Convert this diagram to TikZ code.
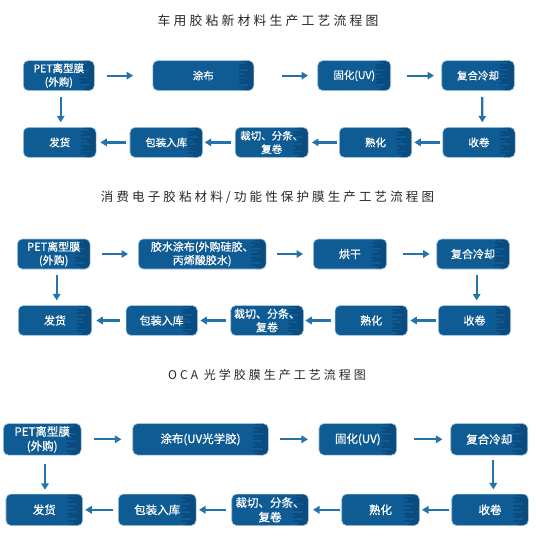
\documentclass[tikz,border=0pt]{standalone}
\usepackage{fontspec}
\usepackage{tikz}
\usetikzlibrary{arrows.meta, calc}
\newfontfamily\cjk{Noto Sans CJK SC}[FakeBold=0.8]
\newfontfamily\cjktitle{Noto Sans CJK SC}[LetterSpace=25]
\definecolor{boxblue}{HTML}{0F5B94}
\definecolor{boxdark}{HTML}{0B4C80}
\definecolor{boxedge}{HTML}{A9C7DF}
\definecolor{arrowblue}{HTML}{2573AB}

\begin{document}
\begin{tikzpicture}[
    x=1pt, y=-1pt,
    procbox/.style={draw=boxedge, line width=0.6pt, fill=boxblue, rounded corners=5pt,
                    minimum width=#1, minimum height=30pt, inner sep=0pt,
                    text=white, align=center, font=\cjk\fontsize{10.5}{13.5}\selectfont,
                    path picture={
                      \fill[boxdark] ([xshift=-15pt]path picture bounding box.north east)
                        rectangle (path picture bounding box.south east);
                      \foreach \f/\w in {0.08/8,0.2/4,0.32/10,0.44/6,0.56/9,0.68/3,0.8/10,0.92/6}
                        \draw[boxblue, line width=1.8pt]
                          ($(path picture bounding box.north east)!\f!(path picture bounding box.south east)+(-15.5pt,0pt)$)
                          -- ++(\w pt,0pt);
                    }},
    conn/.style={-{Triangle[length=6.5pt,width=7.5pt]}, draw=arrowblue, line width=2.2pt},
    heading/.style={font=\cjktitle\fontsize{#1}{#1}\selectfont, text=black!85},
]
    \useasboundingbox (0,0) rectangle (535,543);

    % Section 1: car adhesive materials
    \node[heading=12.8] (title1) at (268,21) {车用胶粘新材料生产工艺流程图};

    % Row 1
    \node[procbox=71pt] (pet1) at (58.8,75.6) {PET离型膜\\(外购)};
    \node[procbox=101pt] (coat1) at (203.3,75.6) {涂布};
    \node[procbox=73pt] (cure1) at (354.2,75.6) {固化(UV)};
    \node[procbox=72.6pt] (lam1) at (478,75.6) {复合冷却};

    % Row 2
    \node[procbox=72.7pt] (ship1) at (59.7,142.4) {发货};
    \node[procbox=72.7pt] (pack1) at (166.3,142.4) {包装入库};
    \node[procbox=73pt] (slit1) at (271.7,142.4) {裁切、分条、\\复卷};
    \node[procbox=72.4pt] (age1) at (375.5,142.4) {熟化};
    \node[procbox=72.3pt] (wind1) at (478.9,142.4) {收卷};

    % Connections
    \draw[conn, shorten <=12.4pt, shorten >=19.4pt] (pet1.east) -- (coat1.west);
    \draw[conn, shorten <=27.7pt, shorten >=9.4pt] (coat1.east) -- (cure1.west);
    \draw[conn, shorten <=16pt, shorten >=7.4pt] (cure1.east) -- (lam1.west);
    \draw[conn, shorten <=6pt, shorten >=4.8pt] ([xshift=4.3pt]lam1.south) -- ([xshift=3.4pt]wind1.north);
    \draw[conn, shorten <=2.7pt, shorten >=2.3pt] (wind1.west) -- (age1.east);
    \draw[conn, shorten <=1.6pt, shorten >=3.4pt] (age1.west) -- (slit1.east);
    \draw[conn, shorten <=4pt, shorten >=1.7pt] (slit1.west) -- (pack1.east);
    \draw[conn, shorten <=4pt, shorten >=4pt] (pack1.west) -- (ship1.east);
    \draw[conn, shorten <=6pt, shorten >=4.8pt] ([xshift=1.9pt]pet1.south) -- ([xshift=1pt]ship1.north);

    % Section 2: consumer electronics / protective film
    \node[heading=12.5] (title2) at (267.5,197) {消费电子胶粘材料/功能性保护膜生产工艺流程图};

    \begin{scope}[procbox/.append style={font=\cjk\fontsize{11}{13.5}\selectfont}]
    % Row 1
    \node[procbox=72.7pt] (pet2) at (53.7,254) {PET离型膜\\(外购)};
    \node[procbox=127.7pt] (coat2) at (202.2,254) {胶水涂布(外购硅胶、\\丙烯酸胶水)};
    \node[procbox=73.4pt] (dry2) at (350,254) {烘干};
    \node[procbox=72.6pt] (lam2) at (473,254) {复合冷却};

    % Row 2
    \node[procbox=73.4pt] (ship2) at (55,320.5) {发货};
    \node[procbox=71.3pt] (pack2) at (161.7,320.5) {包装入库};
    \node[procbox=72.6pt] (slit2) at (267,320.5) {裁切、分条、\\复卷};
    \node[procbox=72.3pt] (age2) at (371.2,320.5) {熟化};
    \node[procbox=72.4pt] (wind2) at (474.5,320.5) {收卷};
    \end{scope}

    % Connections
    \draw[conn, shorten <=11.7pt, shorten >=10pt] (pet2.east) -- (coat2.west);
    \draw[conn, shorten <=10.7pt, shorten >=10pt] (coat2.east) -- (dry2.west);
    \draw[conn, shorten <=16pt, shorten >=6.7pt] (dry2.east) -- (lam2.west);
    \draw[conn, shorten <=6pt, shorten >=4.8pt] ([xshift=3.7pt]lam2.south) -- ([xshift=2.2pt]wind2.north);
    \draw[conn, shorten <=1.6pt, shorten >=2.7pt] (wind2.west) -- (age2.east);
    \draw[conn, shorten <=3.3pt, shorten >=1.7pt] (age2.west) -- (slit2.east);
    \draw[conn, shorten <=4pt, shorten >=2.7pt] (slit2.west) -- (pack2.east);
    \draw[conn, shorten <=5.3pt, shorten >=4.3pt] (pack2.west) -- (ship2.east);
    \draw[conn, shorten <=6pt, shorten >=4.8pt] ([xshift=3pt]pet2.south) -- ([xshift=1.7pt]ship2.north);

    % Section 3: OCA optical adhesive film
    \node[heading=12] (title3) at (267,375.4) {OCA 光学胶膜生产工艺流程图};

    \begin{scope}[procbox/.append style={minimum height=31.5pt, font=\cjk\fontsize{11.5}{14.5}\selectfont}]
    % Row 1
    \node[procbox=77.7pt] (pet3) at (42.2,439.3) {PET离型膜\\(外购)};
    \node[procbox=135.6pt] (coat3) at (200.5,439.3) {涂布(UV光学胶)};
    \node[procbox=77.7pt] (cure3) at (357.8,439.3) {固化(UV)};
    \node[procbox=77pt] (lam3) at (489.2,439.3) {复合冷却};

    % Row 2
    \node[procbox=76.7pt] (ship3) at (44.3,509.8) {发货};
    \node[procbox=77.7pt] (pack3) at (157.2,509.8) {包装入库};
    \node[procbox=76.6pt] (slit3) at (270,509.8) {裁切、分条、\\复卷};
    \node[procbox=77.6pt] (age3) at (380.5,509.8) {熟化};
    \node[procbox=76.6pt] (wind3) at (490,509.8) {收卷};
    \end{scope}

    % Connections
    \draw[conn, shorten <=12.3pt, shorten >=11pt] (pet3.east) -- (coat3.west);
    \draw[conn, shorten <=11.7pt, shorten >=10.7pt] (coat3.east) -- (cure3.west);
    \draw[conn, shorten <=17.3pt, shorten >=8pt] (cure3.east) -- (lam3.west);
    \draw[conn, shorten <=5pt, shorten >=4.3pt] ([xshift=4.1pt]lam3.south) -- ([xshift=3.3pt]wind3.north);
    \draw[conn, shorten <=2.4pt, shorten >=2.4pt] (wind3.west) -- (age3.east);
    \draw[conn, shorten <=1.7pt, shorten >=4.4pt] (age3.west) -- (slit3.east);
    \draw[conn, shorten <=5pt, shorten >=2.7pt] (slit3.west) -- (pack3.east);
    \draw[conn, shorten <=5pt, shorten >=2.3pt] (pack3.west) -- (ship3.east);
    \draw[conn, shorten <=8.3pt, shorten >=4pt] ([xshift=2.8pt]pet3.south) -- ([xshift=0.7pt]ship3.north);
\end{tikzpicture}
\end{document}
